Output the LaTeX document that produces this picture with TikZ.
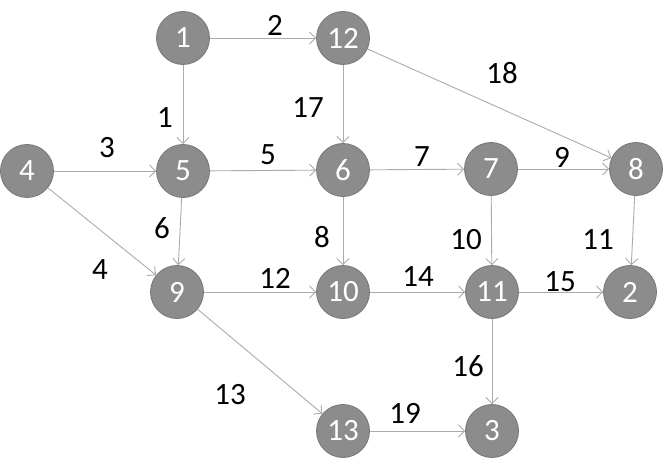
\documentclass[tikz,border=0pt]{standalone}
\usepackage{fontspec}
\setmainfont{Carlito}
\usetikzlibrary{arrows.meta}
\definecolor{nodefill}{HTML}{8C8C8C}
\definecolor{nodeedge}{HTML}{767676}
\definecolor{edgecol}{HTML}{ABABAB}
\tikzset{
  vtx/.style={circle, fill=nodefill, draw=nodeedge, line width=0.8pt, minimum size=53pt, inner sep=0pt, text=white, font=\fontsize{31}{31}\selectfont},
  edge/.style={draw=edgecol, line width=0.9pt, -{Straight Barb[length=6pt,width=12pt]}},
  lbl/.style={text=black, font=\fontsize{31}{31}\selectfont, inner sep=0pt}
}
\begin{document}
\begin{tikzpicture}[x=1pt,y=-1pt]
\useasboundingbox (0,0) rectangle (668,457);
\node[vtx] (n1) at (183,38) {1};
\node[vtx] (n12) at (343,38) {12};
\node[vtx] (n4) at (27,171) {4};
\node[vtx] (n5) at (183,171) {5};
\node[vtx] (n6) at (343,170) {6};
\node[vtx] (n7) at (491,169) {7};
\node[vtx] (n8) at (636,169) {8};
\node[vtx] (n9) at (177,292) {9};
\node[vtx] (n10) at (343,292) {10};
\node[vtx] (n11) at (492,292) {11};
\node[vtx] (n2) at (630,292) {2};
\node[vtx] (n13) at (343,431) {13};
\node[vtx] (n3) at (492,431) {3};

\draw[edge] (n1) -- (n12);
\draw[edge] (n1) -- (n5);
\draw[edge] (n12) -- (n6);
\draw[edge] (n12) -- (n8);
\draw[edge] (n4) -- (n5);
\draw[edge] (n4) -- (n9);
\draw[edge] (n5) -- (n6);
\draw[edge] (n5) -- (n9);
\draw[edge] (n6) -- (n7);
\draw[edge] (n6) -- (n10);
\draw[edge] (n7) -- (n8);
\draw[edge] (n7) -- (n11);
\draw[edge] (n8) -- (n2);
\draw[edge] (n9) -- (n10);
\draw[edge] (n9) -- (n13);
\draw[edge] (n10) -- (n11);
\draw[edge] (n11) -- (n2);
\draw[edge] (n11) -- (n3);
\draw[edge] (n13) -- (n3);

\node[lbl] (l2) at (275,25) {2};
\node[lbl] (l1) at (165,118) {1};
\node[lbl] (l17) at (308,108) {17};
\node[lbl] (l3) at (107,148) {3};
\node[lbl] (l5) at (268,155) {5};
\node[lbl] (l18) at (502,73) {18};
\node[lbl] (l7) at (422,157) {7};
\node[lbl] (l9) at (562,157) {9};
\node[lbl] (l6) at (162,228) {6};
\node[lbl] (l8) at (322,237) {8};
\node[lbl] (l4) at (100,270) {4};
\node[lbl] (l12) at (275,278) {12};
\node[lbl] (l10) at (466,240) {10};
\node[lbl] (l11) at (598,240) {11};
\node[lbl] (l14) at (418,277) {14};
\node[lbl] (l15) at (560,282) {15};
\node[lbl] (l13) at (230,395) {13};
\node[lbl] (l16) at (468,366) {16};
\node[lbl] (l19) at (405,413) {19};
\end{tikzpicture}
\end{document}
